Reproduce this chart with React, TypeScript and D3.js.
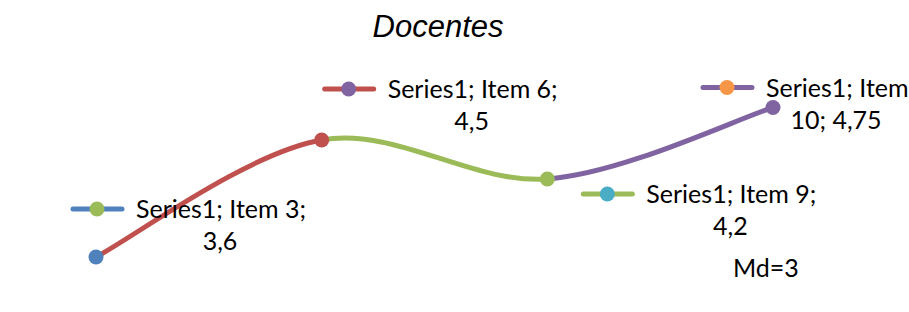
import React from 'react';
import * as d3 from 'd3';

// chart data
const categories = ['3', '6', '9', '10'];
const values = [3.6, 4.5, 4.2, 4.75];
const valueLabels = ['3,6', '4,5', '4,2', '4,75'];
const title = 'Docentes';
const note = 'Md=3';

// Excel-ish office palette
const pointColors = ['#4F81BD', '#C0504D', '#9BBB59', '#8064A2'];
const segColors = ['#C0504D', '#9BBB59', '#8064A2'];
const keyLineColors = ['#4F81BD', '#C0504D', '#9BBB59', '#8064A2'];
const keyDotColors = ['#9BBB59', '#8064A2', '#4BACC6', '#F79646'];

// label placement relative to its point (key start), and text layout
const labelOffsets = [
  { dx: -26, dy: -48, wrap: false },
  { dx: 0, dy: -51, wrap: false },
  { dx: 33, dy: 15, wrap: false },
  { dx: -73, dy: -20, wrap: true },
];

const W = 909;
const H = 312;
const FONT = 'Lato, "Open Sans", sans-serif';
const FS = 25;

const App = () => {
  const x = d3.scalePoint().domain(categories).range([96, 773]);
  const y = d3.scaleLinear().domain([3, 5]).range([335, 75]);

  const pts = categories.map((c, i) => [x(c) as number, y(values[i])]);

  // catmull-rom style bezier per segment so each piece can get its own colour
  const segments = pts.slice(0, -1).map((p1, i) => {
    const p0 = pts[i - 1] ?? p1;
    const p2 = pts[i + 1];
    const p3 = pts[i + 2] ?? p2;
    const path = d3.path();
    path.moveTo(p1[0], p1[1]);
    path.bezierCurveTo(
      p1[0] + (p2[0] - p0[0]) / 6,
      p1[1] + (p2[1] - p0[1]) / 6,
      p2[0] - (p3[0] - p1[0]) / 6,
      p2[1] - (p3[1] - p1[1]) / 6,
      p2[0],
      p2[1]
    );
    return path.toString();
  });

  return (
    <svg
      width={W}
      height={H}
      style={{ position: 'absolute', left: 0, top: 0, background: '#fff' }}
    >
      <text
        x={438}
        y={37}
        textAnchor="middle"
        fontFamily='"Liberation Sans", Arial, sans-serif'
        fontStyle="italic"
        fontSize={31}
        fill="#000"
      >
        {title}
      </text>

      {segments.map((d, i) => (
        <path
          key={'s' + i}
          d={d}
          fill="none"
          stroke={segColors[i]}
          strokeWidth={5}
          strokeLinecap="round"
        />
      ))}

      {pts.map((p, i) => (
        <circle key={'p' + i} cx={p[0]} cy={p[1]} r={7.5} fill={pointColors[i]} />
      ))}

      {pts.map((p, i) => {
        const o = labelOffsets[i];
        const kx = p[0] + o.dx;
        const ky = p[1] + o.dy;
        const tx = kx + 66;
        const line1 = o.wrap ? `Series1; Item` : `Series1; Item ${categories[i]};`;
        const line2 = o.wrap ? `${categories[i]}; ${valueLabels[i]}` : valueLabels[i];
        const midX = o.wrap ? tx + 70 : tx + 84;
        return (
          <g key={'l' + i}>
            <line
              x1={kx + 3}
              x2={kx + 52}
              y1={ky}
              y2={ky}
              stroke={keyLineColors[i]}
              strokeWidth={5}
              strokeLinecap="round"
            />
            <circle cx={kx + 27} cy={ky} r={7.5} fill={keyDotColors[i]} />
            <text x={tx} y={ky + 9} fontFamily={FONT} fontSize={FS} fill="#000">
              {line1}
            </text>
            <text
              x={midX}
              y={ky + 41}
              textAnchor="middle"
              fontFamily={FONT}
              fontSize={FS}
              fill="#000"
            >
              {line2}
            </text>
          </g>
        );
      })}

      <text x={733} y={277} fontFamily={FONT} fontSize={FS} fill="#000">
        {note}
      </text>
    </svg>
  );
};

export default App;
